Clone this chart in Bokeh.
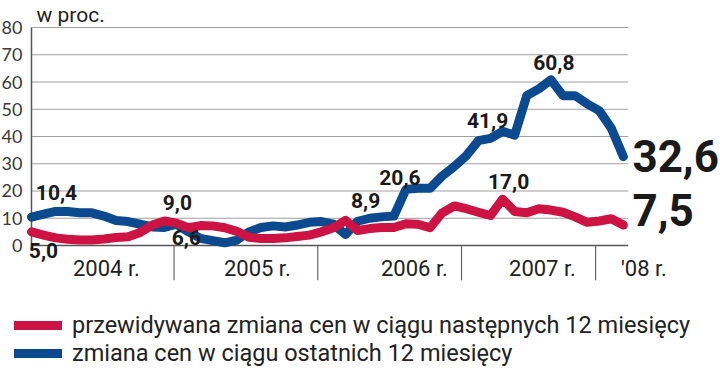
from bokeh.plotting import figure
from bokeh.models import Range1d, Legend, LegendItem, ColumnDataSource
from bokeh.core.properties import value
from bokeh.embed import file_html
from bokeh.resources import INLINE

# ---- data ----
months = list(range(50))  # Jan 2004 .. Feb 2008
expected = [5.0, 3.8, 2.8, 2.3, 2.0, 2.0, 2.4, 2.9, 3.2, 4.8, 7.5, 9.0, 8.2, 6.5, 7.3, 7.2, 6.5, 5.2,
            3.0, 2.6, 2.6, 2.8, 3.3, 3.8, 5.0, 6.5, 9.2, 5.5, 6.2, 6.6, 6.6, 8.0, 7.8, 6.5, 12.0, 14.5,
            13.5, 12.2, 11.0, 17.0, 12.5, 12.0, 13.5, 13.0, 12.2, 10.5, 8.5, 9.0, 9.8, 7.5]
past = [10.4, 11.5, 12.5, 12.5, 12.0, 12.0, 10.8, 9.2, 8.8, 7.8, 6.8, 6.6, 7.8, 5.0, 2.6, 1.8, 1.0, 2.0,
        5.0, 6.6, 7.2, 6.8, 7.5, 8.5, 8.8, 7.8, 4.0, 8.9, 10.0, 10.5, 10.8, 20.6, 21.0, 21.0, 25.5, 29.0,
        33.0, 38.5, 39.3, 41.9, 40.5, 55.0, 57.5, 60.8, 55.0, 55.0, 52.0, 49.5, 43.0, 32.6]
y_ticks = [0, 10, 20, 30, 40, 50, 60, 70, 80]
year_labels = ["2004 r.", "2005 r.", "2006 r.", "2007 r.", "'08 r."]
year_centers = [6.2, 18.7, 31.7, 42.3, 50.7]
year_dividers = [11.8, 23.7, 35.6, 46.7]
legend_labels = ["przewidywana zmiana cen w ciągu następnych 12 miesięcy",
                 "zmiana cen w ciągu ostatnich 12 miesięcy"]

X_END = 49.4          # right end of the plotting area (months)
Y_MAX = 80
RED = "#cc1343"
BLUE = "#0b4a8e"

# frame covers the whole canvas; axes are drawn from the data scales
p = figure(width=720, height=375, output_backend="svg", toolbar_location=None,
           x_range=Range1d(-2.566, 57.04), y_range=Range1d(-47.71, 89.91),
           min_border=0)
p.axis.visible = False
p.grid.visible = False
p.outline_line_color = None
p.background_fill_color = "white"
p.border_fill_color = "white"

# gridlines
p.segment(x0=[0] * len(y_ticks), y0=y_ticks, x1=[X_END] * len(y_ticks), y1=y_ticks,
          line_color="#a0a0a0", line_width=1.2)
# axis lines
p.segment(x0=[0, 0], y0=[0, 0], x1=[0, X_END], y1=[Y_MAX, 0], line_color="#555555", line_width=1.5)
# year dividers
p.segment(x0=year_dividers, y0=[0] * len(year_dividers), x1=year_dividers,
          y1=[-12.8] * len(year_dividers), line_color="#666666", line_width=1.2)

# y tick labels
p.text(x=[0] * len(y_ticks), y=y_ticks, text=[str(t) for t in y_ticks], x_offset=-9,
       text_align="right", text_baseline="middle", text_font=value("Lato"),
       text_font_size="18px", text_color="#3a3a3a")
# year labels
p.text(x=year_centers, y=[0] * len(year_centers), text=year_labels, y_offset=23,
       text_align="center", text_baseline="middle", text_font=value("Roboto"),
       text_font_size="22px", text_color="#222222")
# unit
p.text(x=[0], y=[Y_MAX], text=["w proc."], x_offset=5, y_offset=-13, text_align="left",
       text_baseline="middle", text_font=value("Roboto"), text_font_size="21px",
       text_color="#222222")

src = ColumnDataSource(dict(m=months, expected=expected, past=past))
r_blue = p.line("m", "past", source=src, line_color=BLUE, line_width=9,
                line_cap="round", line_join="round")
r_red = p.line("m", "expected", source=src, line_color=RED, line_width=9,
               line_cap="round", line_join="round")

# value annotations: (series, index, text, dx, dy [px, down positive], align, size)
notes = [
    ("past", 0, "10,4", 25, -25, "center", "21px"),
    ("expected", 0, "5,0", 12, 19, "center", "21px"),
    ("expected", 11, "9,0", 13, -18, "center", "21px"),
    ("past", 11, "6,6", 22, 10, "center", "21px"),
    ("past", 27, "8,9", 8, -21, "center", "21px"),
    ("past", 31, "20,6", -6, -12, "center", "21px"),
    ("past", 39, "41,9", -15, -11, "center", "21px"),
    ("past", 43, "60,8", 3, -17, "center", "21px"),
    ("expected", 39, "17,0", 6, -18, "center", "21px"),
    ("past", 49, "32,6", 9, -1, "left", "44px"),
    ("expected", 49, "7,5", 9, -15, "left", "44px"),
]
series = {"past": past, "expected": expected}
nsrc = ColumnDataSource(dict(
    x=[months[n[1]] for n in notes], y=[series[n[0]][n[1]] for n in notes],
    t=[n[2] for n in notes], dx=[n[3] for n in notes], dy=[n[4] for n in notes],
    al=[n[5] for n in notes], fs=[n[6] for n in notes]))
p.text(x="x", y="y", text="t", x_offset="dx", y_offset="dy", text_align="al",
       text_font_size="fs", text_baseline="middle", text_font=value("Roboto"),
       text_font_style="bold", text_color="#1a1a1a", source=nsrc)

legend = Legend(items=[LegendItem(label=legend_labels[0], renderers=[r_red]),
                       LegendItem(label=legend_labels[1], renderers=[r_blue])],
                location=(14, 8), orientation="vertical",
                label_text_font="Roboto", label_text_font_size="23.5px", label_text_color="#222222",
                glyph_width=48, glyph_height=24, label_height=24, spacing=0, padding=0, margin=0,
                label_standoff=10, border_line_alpha=0, background_fill_alpha=0)
p.add_layout(legend, "center")

open("out.html", "w").write(file_html(p, INLINE))
